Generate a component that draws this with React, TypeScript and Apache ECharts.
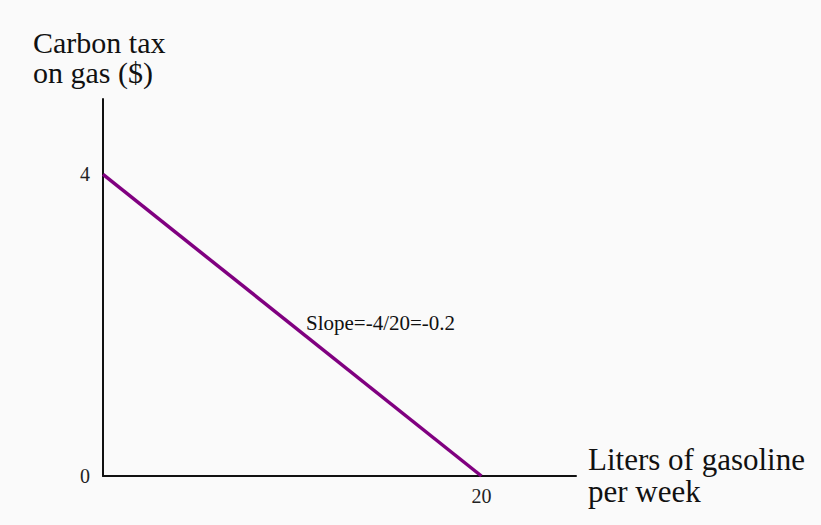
import React, { useEffect, useRef } from "react";
import * as echarts from "echarts";

const xValues = [0, 20];
const yValues = [4, 0];
const xTickLabels = ["", "20"];
const yTickLabels = ["0", "4"];
const yAxisTitle = "Carbon tax\non gas ($)";
const xAxisTitle = "Liters of gasoline\nper week";
const slopeNote = "Slope=-4/20=-0.2";

export default function App() {
  const ref = useRef<HTMLDivElement>(null);
  useEffect(() => {
    if (!ref.current) return;
    const chart = echarts.init(ref.current, null, { renderer: "svg" });
    const font = "'Liberation Serif', 'Times New Roman', serif";
    chart.setOption({
      animation: false,
      backgroundColor: "#fafafa",
      grid: { left: 103, right: 245, top: 99, bottom: 49, containLabel: false },
      xAxis: {
        type: "value",
        min: 0,
        max: 25,
        interval: 20,
        axisLine: { show: true, lineStyle: { color: "#111", width: 2 } },
        axisTick: { show: false },
        splitLine: { show: false },
        axisLabel: {
          margin: 10,
          fontFamily: font,
          fontSize: 20,
          color: "#222",
          showMaxLabel: false,
          formatter: (v: number) => (v === 20 ? xTickLabels[1] : xTickLabels[0]),
        },
      },
      yAxis: {
        type: "value",
        min: 0,
        max: 5,
        interval: 4,
        axisLine: { show: true, lineStyle: { color: "#111", width: 2 } },
        axisTick: { show: false },
        splitLine: { show: false },
        axisLabel: {
          margin: 13,
          fontFamily: font,
          fontSize: 20,
          color: "#222",
          showMaxLabel: false,
          formatter: (v: number) => (v === 0 ? yTickLabels[0] : v === 4 ? yTickLabels[1] : ""),
        },
      },
      series: [
        {
          type: "line",
          data: xValues.map((x, i) => [x, yValues[i]]),
          symbol: "none",
          lineStyle: { color: "#800080", width: 3.5 },
        },
      ],
      graphic: [
        {
          type: "text",
          left: 33,
          top: 27,
          style: { text: yAxisTitle, font: `30px ${font}`, fill: "#111", lineHeight: 30 },
        },
        {
          type: "text",
          left: 588,
          top: 443,
          style: { text: xAxisTitle, font: `31px ${font}`, fill: "#111", lineHeight: 32 },
        },
        {
          type: "text",
          left: 306,
          top: 312,
          style: { text: slopeNote, font: `21px ${font}`, fill: "#111" },
        },
      ],
    });
    return () => chart.dispose();
  }, []);
  return (
    <div
      ref={ref}
      style={{ position: "fixed", left: 0, top: 0, width: 821, height: 525 }}
    />
  );
}
